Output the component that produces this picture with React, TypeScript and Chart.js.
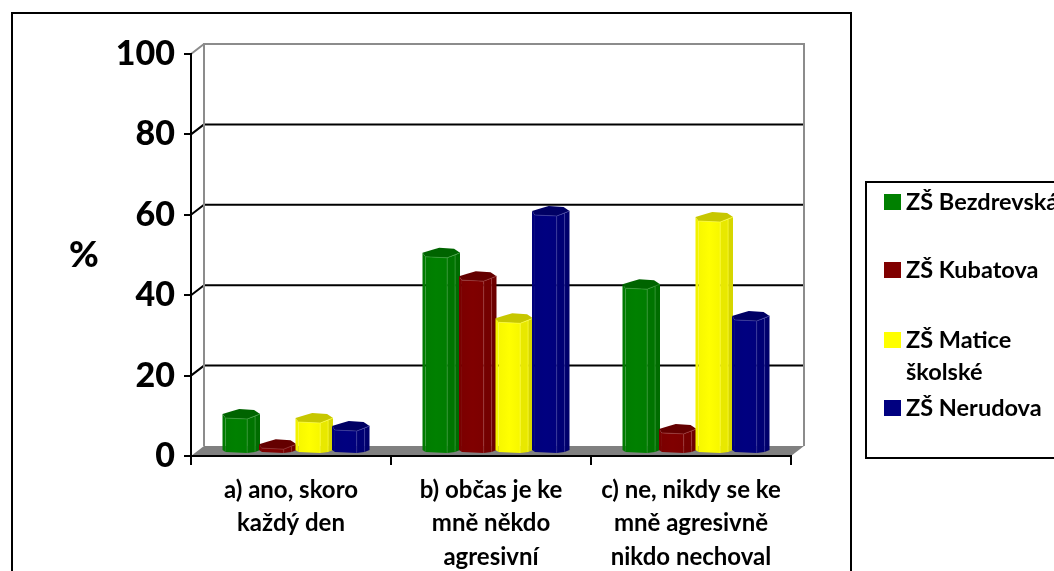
import React, { useEffect, useRef } from "react";
import { Chart, registerables } from "chart.js";

Chart.register(...registerables);

const categories = [
  ["a) ano, skoro", "každý den"],
  ["b) občas je ke", "mně někdo", "agresivní"],
  ["c) ne, nikdy se ke", "mně agresivně", "nikdo nechoval"],
];
const bezdrevska = [9.2, 49.3, 41.5];
const kubatova = [1.7, 43.5, 5.5];
const maticeSkolske = [8.2, 33, 58.2];
const nerudova = [6.2, 59.7, 33.6];
const yTicks = [0, 20, 40, 60, 80, 100];
const legendLabels = [["ZŠ Bezdrevská"], ["ZŠ Kubatova"], ["ZŠ Matice", "školské"], ["ZŠ Nerudova"]];
const colors = [
  [0, 128, 0],
  [128, 0, 0],
  [255, 255, 0],
  [0, 0, 128],
];

const FONT = "Lato, Carlito, sans-serif";
const DX = 13;
const DY = 10;
const rgb = (c: number[], k: number) =>
  `rgb(${c.map((v) => Math.round(v * k)).join(",")})`;
const rgbLight = (c: number[], a: number) =>
  `rgb(${c.map((v) => Math.round(v + (255 - v) * a)).join(",")})`;

const poly = (ctx: CanvasRenderingContext2D, pts: number[][], fill: string) => {
  ctx.beginPath();
  pts.forEach((p, i) => (i ? ctx.lineTo(p[0], p[1]) : ctx.moveTo(p[0], p[1])));
  ctx.closePath();
  ctx.fillStyle = fill;
  ctx.fill();
};

const scene = {
  id: "scene",
  beforeDraw(chart: any) {
    const { ctx, chartArea: a, scales } = chart;
    ctx.save();
    ctx.fillStyle = "#fff";
    ctx.fillRect(0, 0, chart.width, chart.height);
    ctx.strokeStyle = "#000";
    ctx.lineWidth = 2;
    ctx.strokeRect(12, 13, 839, 600);
    ctx.strokeRect(866, 182, 240, 276);

    poly(
      ctx,
      [
        [a.left, a.bottom],
        [a.left + DX, a.bottom - DY],
        [a.right + DX, a.bottom - DY],
        [a.right, a.bottom],
      ],
      "#808080"
    );
    ctx.strokeStyle = "#000";
    ctx.lineWidth = 2;
    for (const t of scales.y.ticks) {
      if (t.value === 0 || t.value === 100) continue;
      const y = scales.y.getPixelForValue(t.value) - DY;
      ctx.beginPath();
      ctx.moveTo(a.left + DX, y);
      ctx.lineTo(a.right + DX, y);
      ctx.moveTo(a.left, y + DY);
      ctx.lineTo(a.left + DX, y);
      ctx.stroke();
    }
    ctx.strokeStyle = "#8c8c8c";
    ctx.lineWidth = 2;
    ctx.beginPath();
    ctx.moveTo(a.left + DX, a.bottom - DY);
    ctx.lineTo(a.left + DX, a.top - DY);
    ctx.lineTo(a.right + DX, a.top - DY);
    ctx.lineTo(a.right + DX, a.bottom - DY);
    ctx.moveTo(a.left, a.top);
    ctx.lineTo(a.left + DX, a.top - DY);
    ctx.stroke();

    const swatchY = [194, 262, 332, 400];
    ctx.textBaseline = "middle";
    ctx.font = `bold 23.5px ${FONT}`;
    chart.data.datasets.forEach((d: any, i: number) => {
      ctx.fillStyle = d.backgroundColor;
      ctx.fillRect(884, swatchY[i], 17, 16);
      ctx.fillStyle = "#000";
      d.legendLines.forEach((line: string, k: number) => {
        ctx.fillText(line, 906, swatchY[i] + 8 + k * 32);
      });
    });

    ctx.font = `900 36px ${FONT}`;
    ctx.textAlign = "center";
    ctx.fillText("%", 84, 255);
    ctx.restore();
  },
  beforeDatasetsDraw(chart: any) {
    const { ctx } = chart;
    ctx.save();
    chart.data.datasets.forEach((d: any, i: number) => {
      const c = colors[i];
      chart.getDatasetMeta(i).data.forEach((el: any) => {
        const w = el.width + 1;
        const x0 = el.x - el.width / 2 + 4.5;
        const T = el.y - 10;
        const B = el.base - 2;
        const sx = w / 38;
        const X = (v: number) => x0 + v * sx;
        const g = ctx.createLinearGradient(X(3), 0, X(25), 0);
        g.addColorStop(0, rgb(c, 0.97));
        g.addColorStop(0.5, rgb(c, 1));
        g.addColorStop(1, rgb(c, 0.97));
        poly(ctx, [[X(0), T + 5], [X(3), T + 9], [X(3), B - 1], [X(0), B - 3]], rgb(c, 0.95));
        poly(ctx, [[X(3), T + 9], [X(25), T + 10], [X(25), B], [X(3), B - 1]], g);
        poly(ctx, [[X(25), T + 10], [X(33), T + 7.2], [X(33), B - 1.1], [X(25), B]], rgb(c, 0.91));
        poly(ctx, [[X(33), T + 7.2], [X(38), T + 5], [X(38), B - 3], [X(33), B - 1.1]], rgb(c, 0.84));
        poly(
          ctx,
          [[0, 5], [3, 9], [25, 10], [38, 5], [32, 1], [17, 0], [10, 2]].map((p) => [X(p[0]), T + p[1]]),
          rgb(c, 0.78)
        );
        ctx.strokeStyle = rgbLight(c, 0.22);
        ctx.lineWidth = 0.7;
        ctx.beginPath();
        ctx.moveTo(X(3), T + 9);
        ctx.lineTo(X(25), T + 10);
        ctx.lineTo(X(38), T + 5);
        ctx.moveTo(X(25), T + 10);
        ctx.lineTo(X(25), B);
        ctx.moveTo(X(33), T + 7.2);
        ctx.lineTo(X(33), B - 1.1);
        ctx.stroke();
      });
    });
    ctx.restore();
    return false;
  },
};

export default function App() {
  const ref = useRef<HTMLCanvasElement>(null);
  useEffect(() => {
    const series = [bezdrevska, kubatova, maticeSkolske, nerudova];
    const chart = new Chart(ref.current!, {
      type: "bar",
      data: {
        labels: categories as any,
        datasets: series.map((data, i) => ({
          label: legendLabels[i].join(" "),
          legendLines: legendLabels[i],
          data,
          backgroundColor: `rgb(${colors[i].join(",")})`,
          categoryPercentage: 0.73,
          barPercentage: 1,
        })) as any,
      },
      options: {
        responsive: false,
        animation: false,
        layout: { padding: { left: 0, top: 54, right: 263, bottom: 0 } },
        plugins: { legend: { display: false }, tooltip: { enabled: false }, title: { display: false } },
        scales: {
          x: {
            afterFit: (s: any) => { s.height = 115; },
            border: { color: "#000", width: 2 },
            grid: { drawOnChartArea: false, drawTicks: true, tickLength: 9, color: "#000", lineWidth: 2, offset: true },
            ticks: {
              color: "#000",
              maxRotation: 0,
              autoSkip: false,
              padding: 8,
              font: { family: FONT, weight: "bold", size: 24, lineHeight: 1.4 },
            },
          },
          y: {
            min: 0,
            max: 100,
            afterFit: (s: any) => { s.width = 191; },
            afterBuildTicks: (s: any) => { s.ticks = yTicks.map((value) => ({ value })); },
            border: { color: "#000", width: 2 },
            grid: { drawOnChartArea: false, drawTicks: true, tickLength: 7, color: "#000", lineWidth: 2 },
            ticks: {
              color: "#000",
              padding: 9,
              font: { family: FONT, weight: "900", size: 34 },
            },
          },
        },
      },
      plugins: [scene as any],
    });
    return () => chart.destroy();
  }, []);
  return (
    <div style={{ position: "fixed", left: 0, top: 0, width: 1054, height: 571, overflow: "hidden", background: "#fff" }}>
      <canvas ref={ref} width={1054} height={571} style={{ display: "block" }} />
    </div>
  );
}
